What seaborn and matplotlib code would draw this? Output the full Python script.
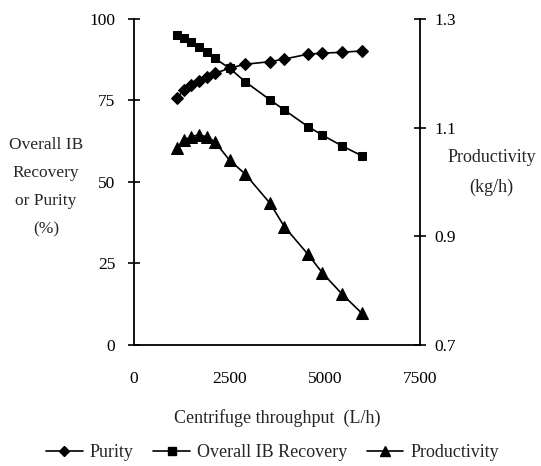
import matplotlib
matplotlib.use("Agg")
import matplotlib.pyplot as plt
import seaborn as sns
import pandas as pd
from matplotlib.lines import Line2D

# data
throughput = [1120, 1310, 1490, 1700, 1915, 2120, 2505, 2910, 3565, 3940, 4560, 4935, 5465, 5980]
purity = [75.7, 78.2, 79.8, 81.1, 82.3, 83.3, 84.9, 86.1, 86.9, 87.7, 89.2, 89.5, 89.8, 90.2]
recovery = [95.1, 94.1, 93.0, 91.5, 90.0, 87.9, 84.9, 80.8, 75.2, 72.1, 67.0, 64.4, 61.0, 58.0]
productivity = [1.062, 1.077, 1.083, 1.087, 1.083, 1.074, 1.040, 1.015, 0.961, 0.918, 0.867, 0.833, 0.793, 0.758]

df = pd.DataFrame({"throughput": throughput, "purity": purity,
                   "recovery": recovery, "productivity": productivity})

sns.set_style("white")
plt.rcParams["font.family"] = ["Liberation Serif", "DejaVu Serif"]
plt.rcParams["font.size"] = 12.5

fig = plt.figure(figsize=(5.41, 4.66), dpi=100)
ax = fig.add_axes([0.2477, 0.2597, 0.5287, 0.6996])
ax2 = ax.twinx()

sns.lineplot(data=df, x="throughput", y="purity", ax=ax, color="black", marker="D",
             markersize=6, markeredgecolor="black", linewidth=1.2)
sns.lineplot(data=df, x="throughput", y="recovery", ax=ax, color="black", marker="s",
             markersize=6, markeredgecolor="black", linewidth=1.2)
sns.lineplot(data=df, x="throughput", y="productivity", ax=ax2, color="black", marker="^",
             markersize=8, markeredgecolor="black", linewidth=1.2)

ax.set_xlim(0, 7500)
ax.set_ylim(0, 100)
ax2.set_ylim(0.7, 1.3)
ax.set_xticks([0, 2500, 5000, 7500])
ax.set_yticks([0, 25, 50, 75, 100])
ax2.set_yticks([0.7, 0.9, 1.1, 1.3])
ax2.set_yticklabels(["0.7", "0.9", "1.1", "1.3"])

for a in (ax, ax2):
    a.spines["top"].set_visible(False)
    for s in a.spines.values():
        s.set_color("black")
        s.set_linewidth(1.3)
    a.tick_params(direction="inout", length=9, width=1.2, colors="black", labelsize=12.5)
    a.set_ylabel("")
ax.spines["right"].set_visible(False)
ax2.spines["left"].set_visible(False)
ax2.spines["bottom"].set_visible(False)
ax.tick_params(axis="x", pad=14)
ax.tick_params(axis="y", pad=9)
ax2.tick_params(axis="y", pad=6)

ax.set_xlabel("Centrifuge throughput  (L/h)", labelpad=16, fontsize=13)

fig.text(0.085, 0.598, "Overall IB\nRecovery\nor Purity\n(%)", ha="center", va="center",
         linespacing=2.0, fontsize=12.5)
fig.text(0.909, 0.629, "Productivity\n(kg/h)", ha="center", va="center",
         linespacing=1.95, fontsize=13)

handles = [
    Line2D([], [], color="black", marker="D", markersize=5, linewidth=1.2),
    Line2D([], [], color="black", marker="s", markersize=5.5, linewidth=1.2),
    Line2D([], [], color="black", marker="^", markersize=7, linewidth=1.2),
]
fig.legend(handles, ["Purity", "Overall IB Recovery", "Productivity"], loc="center",
           bbox_to_anchor=(0.504, 0.028), ncol=3, frameon=False, handlelength=2.0,
           handletextpad=0.4, columnspacing=1.1, fontsize=13)

fig.savefig("out.png", dpi=100)
